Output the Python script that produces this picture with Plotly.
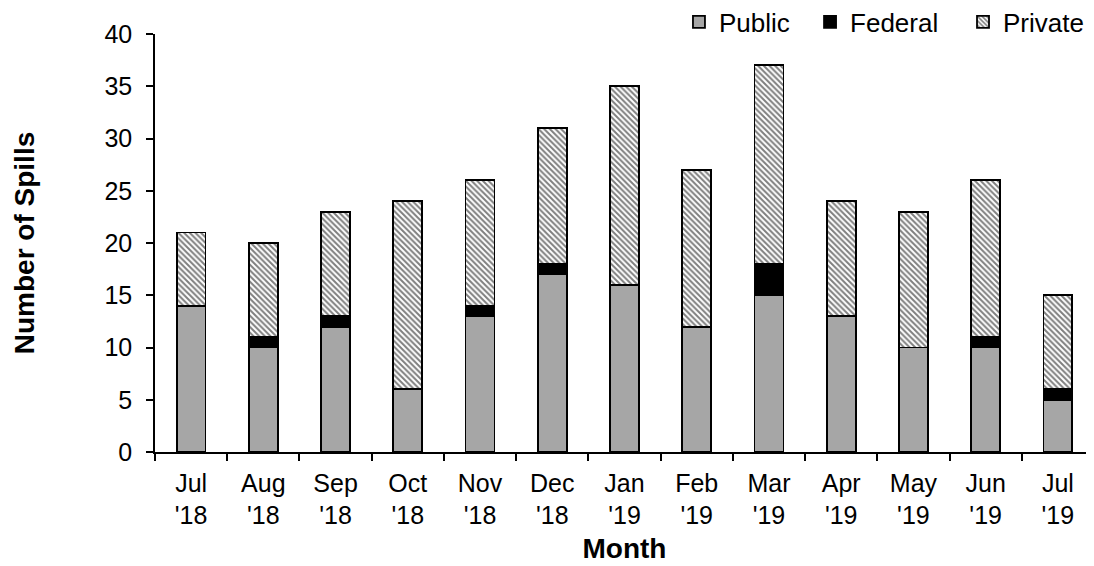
import plotly.graph_objects as go

months = ["Jul<br>'18", "Aug<br>'18", "Sep<br>'18", "Oct<br>'18", "Nov<br>'18", "Dec<br>'18",
          "Jan<br>'19", "Feb<br>'19", "Mar<br>'19", "Apr<br>'19", "May<br>'19", "Jun<br>'19", "Jul<br>'19"]
public = [14, 10, 12, 6, 13, 17, 16, 12, 15, 13, 10, 10, 5]
federal = [0, 1, 1, 0, 1, 1, 0, 0, 3, 0, 0, 1, 1]
private = [7, 9, 10, 18, 12, 13, 19, 15, 19, 11, 13, 15, 9]
y_ticks = [0, 5, 10, 15, 20, 25, 30, 35, 40]

FONT = "Liberation Sans, Arial, sans-serif"
line = dict(color="black", width=1.8)

fig = go.Figure()
fig.add_trace(go.Bar(name="Public", x=months, y=public, legend="legend",
                     marker=dict(color="#a6a6a6", line=line)))
fig.add_trace(go.Bar(name="Federal", x=months, y=federal, legend="legend2",
                     marker=dict(color="black", line=line)))
fig.add_trace(go.Bar(name="Private", x=months, y=private, legend="legend3",
                     marker=dict(color="white", line=line,
                                 pattern=dict(shape="\\", fgcolor="black", bgcolor="white",
                                              size=4, solidity=0.5))))

def leg(x):
    return dict(orientation="h", x=x, xanchor="left", y=1.029, yanchor="middle",
                font=dict(size=26), itemwidth=30,
                bgcolor="rgba(0,0,0,0)", borderwidth=0)

fig.update_layout(
    barmode="stack",
    bargap=0.6,
    width=1094, height=566,
    margin=dict(l=147, r=8, t=26, b=122, autoexpand=False),
    paper_bgcolor="white", plot_bgcolor="white",
    font=dict(family=FONT, size=25, color="black"),
    showlegend=True,
    legend=leg(0.5580),
    legend2=leg(0.6976),
    legend3=leg(0.8605),
    xaxis=dict(title=dict(text="<b>Month</b>", font=dict(size=28), standoff=10),
               automargin=False,
               showline=True, linecolor="black", linewidth=1.5,
               ticks="outside", tickson="boundaries", ticklen=7, tickcolor="black", tickwidth=1.5,
               ticklabelstandoff=8, tickfont=dict(size=25)),
    yaxis=dict(title=dict(text="<b>Number of Spills</b>", font=dict(size=28), standoff=62),
               automargin=False,
               range=[0, 40], tickvals=y_ticks,
               showline=True, linecolor="black", linewidth=1.5,
               ticks="outside", ticklen=7, tickcolor="black", tickwidth=1.5,
               ticklabelstandoff=9,
               showgrid=False, zeroline=False, tickfont=dict(size=25)),
)

fig.write_html("out.html")
